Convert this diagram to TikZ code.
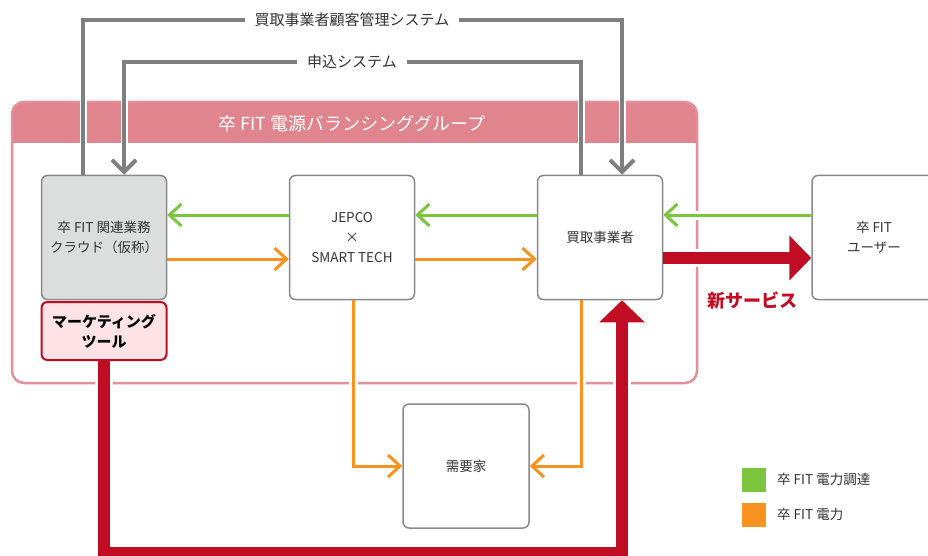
\documentclass[tikz,border=0pt]{standalone}
\usepackage{fontspec}
\setmainfont{Noto Sans CJK JP}
\usetikzlibrary{arrows.meta}
\definecolor{grayline}{HTML}{7F7F7F}
\definecolor{greenline}{HTML}{7CC53F}
\definecolor{orangeline}{HTML}{F7931E}
\definecolor{redline}{HTML}{C10D24}
\definecolor{pinkhead}{HTML}{E0848E}
\definecolor{pinkframe}{HTML}{E4909A}
\definecolor{boxborder}{HTML}{8A8A8A}
\definecolor{cloudfill}{HTML}{DCDDDD}
\definecolor{mktfill}{HTML}{FDE3E5}
\definecolor{txt}{HTML}{333333}
\begin{document}
\begin{tikzpicture}[x=1pt,y=-1pt,
  box/.style={draw=boxborder, line width=1.5pt, rounded corners=6pt, fill=white,
    minimum width=125pt, minimum height=124pt, align=center, text=txt,
    font=\fontsize{13.5}{20}\selectfont, inner sep=0pt},
  grayarrow/.style={draw=grayline, line width=4pt},
  graytip/.style={-{Straight Barb[length=12pt,width=24pt]}},
  greenarrow/.style={draw=greenline, line width=3pt, -{Straight Barb[length=12pt,width=22pt]}},
  orangearrow/.style={draw=orangeline, line width=3pt, -{Straight Barb[length=12pt,width=22pt]}},
  redarrow/.style={draw=redline, line width=12pt, line join=miter, -{Triangle[length=22pt,width=44pt]}},
  syslabel/.style={inner xsep=10pt, inner ysep=2pt, text=txt, font=\fontsize{15}{16}\selectfont},
  halo/.style={draw=white, line width=#1},
  legendsq/.style={minimum size=24pt, inner sep=0pt},
  legendtxt/.style={anchor=west, text=txt, font=\fontsize{13.5}{16}\selectfont, inner sep=0pt}
]
\useasboundingbox (0,0) rectangle (928,556);
\fill[white] (0,0) rectangle (928,556);

% group frame
\begin{scope}
  \clip (0,0) rectangle (928,143);
  \fill[pinkhead, rounded corners=12pt] (12,102) rectangle (697,383);
\end{scope}
\draw[pinkframe, line width=2.5pt, rounded corners=12pt] (12,102) rectangle (697,383);
\node[text=white, font=\fontsize{18}{20}\selectfont, inner sep=0pt] (title) at (352,124) {卒 FIT 電源バランシンググループ};

% boxes
\node[box, fill=cloudfill] (cloud) at (104,237.5) {卒 FIT 関連業務\\クラウド（仮称）};
\node[box, fill=mktfill, draw=redline, line width=2pt, minimum height=58pt, text=black,
  font=\fontsize{15}{20}\selectfont\bfseries] (mkt) at (104,331) {マーケティング\\ツール};
\node[box] (jepco) at (352,237.5) {JEPCO\\×\\SMART TECH};
\node[box] (buyer) at (600,237.5) {買取事業者};
\node[box, minimum width=124pt] (user) at (874,237.5) {卒 FIT\\ユーザー};
\node[box, minimum width=126pt] (demand) at (466,466) {需要家};

% halos where lines cross the frame
\foreach \x in {83,124,581,622} \draw[halo=7pt] (\x,98) -- (\x,147);
\foreach \x in {104,622} \draw[halo=18pt] (\x,378) -- (\x,388);
\foreach \x in {353,581} \draw[halo=9pt] (\x,378) -- (\x,388);
\draw[halo=9pt] (692,215) -- (702,215);
\draw[halo=18pt] (692,258) -- (702,258);

% gray system lines
\node[syslabel] (sys1) at (352,20) {買取事業者顧客管理システム};
\node[syslabel] (sys2) at (352,62) {申込システム};
\draw[grayarrow] ([xshift=-21pt]cloud.north) |- (sys1.west);
\draw[grayarrow, graytip] (sys1.east) -| ([xshift=22pt]buyer.north);
\draw[grayarrow] ([xshift=-19pt]buyer.north) |- (sys2.east);
\draw[grayarrow, graytip] (sys2.west) -| ([xshift=20pt]cloud.north);

% green
\draw[greenarrow] ([yshift=22.5pt]jepco.west) -- ([yshift=22.5pt]cloud.east);
\draw[greenarrow] ([yshift=22.5pt]buyer.west) -- ([yshift=22.5pt]jepco.east);
\draw[greenarrow] ([yshift=22.5pt]user.west) -- ([yshift=22.5pt]buyer.east);

% orange
\draw[orangearrow] ([yshift=-21.5pt]cloud.east) -- ([yshift=-21.5pt]jepco.west);
\draw[orangearrow] ([yshift=-21.5pt]jepco.east) -- ([yshift=-21.5pt]buyer.west);
\draw[orangearrow] ([xshift=1pt]jepco.south) |- (demand.west);
\draw[orangearrow] ([xshift=-19pt]buyer.south) |- (demand.east);

% red
\draw[redarrow] ([yshift=-20.5pt]buyer.east) -- ([yshift=-20.5pt]user.west);
\node[text=redline, font=\fontsize{18}{20}\selectfont\bfseries, inner sep=0pt] (newsvc) at (752,301) {新サービス};
\draw[redarrow] (mkt.south) -- ++(0,192) -| ([xshift=22pt]buyer.south);

% legend
\node[legendsq, fill=greenline] (lg1) at (753.5,479.5) {};
\node[legendsq, fill=orangeline] (lg2) at (753.5,514.5) {};
\node[legendtxt] (lt1) at (777,479) {卒 FIT 電力調達};
\node[legendtxt] (lt2) at (777,514) {卒 FIT 電力};
\end{tikzpicture}
\end{document}
